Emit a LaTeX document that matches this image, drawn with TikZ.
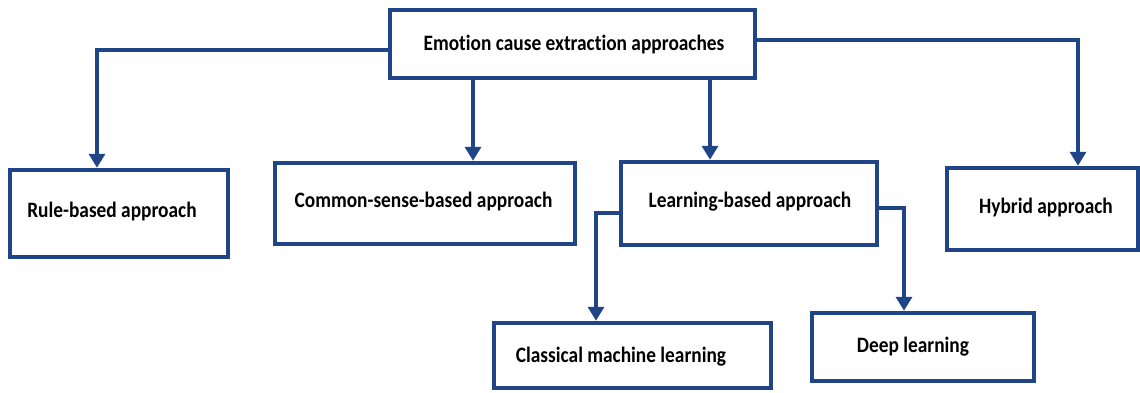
\documentclass[tikz,border=0pt]{standalone}
\usepackage{fontspec}
\setmainfont[FakeStretch=0.88,Ligatures=NoCommon]{Carlito}
\usetikzlibrary{arrows.meta}
\definecolor{linec}{RGB}{31,68,136}
\tikzset{
  box/.style={draw=linec, line width=4.5pt, fill=white, inner sep=0pt},
  lbl/.style={anchor=base, inner sep=0pt, font=\fontsize{22}{24}\selectfont\bfseries},
  arr/.style={draw=linec, line width=4.5pt, -{Triangle[width=16pt,length=14pt]}},
}
\begin{document}
\begin{tikzpicture}[x=1pt,y=-1pt]
\useasboundingbox (0,0) rectangle (1140,392);
\node[box, minimum width=365pt, minimum height=68pt] (root) at (572.5,44) {};
\node[box, minimum width=218pt, minimum height=87pt] (rule) at (119,213.5) {};
\node[box, minimum width=300pt, minimum height=81pt] (common) at (425,203.5) {};
\node[box, minimum width=256pt, minimum height=83pt] (learn) at (749,203.5) {};
\node[box, minimum width=191pt, minimum height=82pt] (hybrid) at (1042.5,209) {};
\node[box, minimum width=277pt, minimum height=65pt] (classic) at (632.5,355.5) {};
\node[box, minimum width=222pt, minimum height=68pt] (deep) at (923,347) {};

\node[lbl] (rootT) at (574,50) {Emotion cause extraction approaches};
\node[lbl] (ruleT) at (112,217) {Rule-based approach};
\node[lbl] (commonT) at (423.5,207) {Common-sense-based approach};
\node[lbl] (learnT) at (750,207) {Learning-based approach};
\node[lbl] (hybridT) at (1046,213) {Hybrid approach};
\node[lbl] (classicT) at (621,362) {Classical machine learning};
\node[lbl] (deepT) at (913,352) {Deep learning};

\draw[arr] ([yshift=-6pt]root.west) -| ([xshift=-22pt]rule.north);
\draw[arr] ([yshift=4pt]root.east) -| ([xshift=35.5pt]hybrid.north);
\draw[arr] ([xshift=-99.5pt]root.south) -- ([xshift=-99.5pt]root.south |- common.north);
\draw[arr] ([xshift=137.5pt]root.south) -- ([xshift=137.5pt]root.south |- learn.north);
\draw[arr] ([yshift=-9.5pt]learn.west) -| ([xshift=-36.5pt]classic.north);
\draw[arr] ([yshift=-4.5pt]learn.east) -| ([xshift=-19pt]deep.north);
\end{tikzpicture}
\end{document}
